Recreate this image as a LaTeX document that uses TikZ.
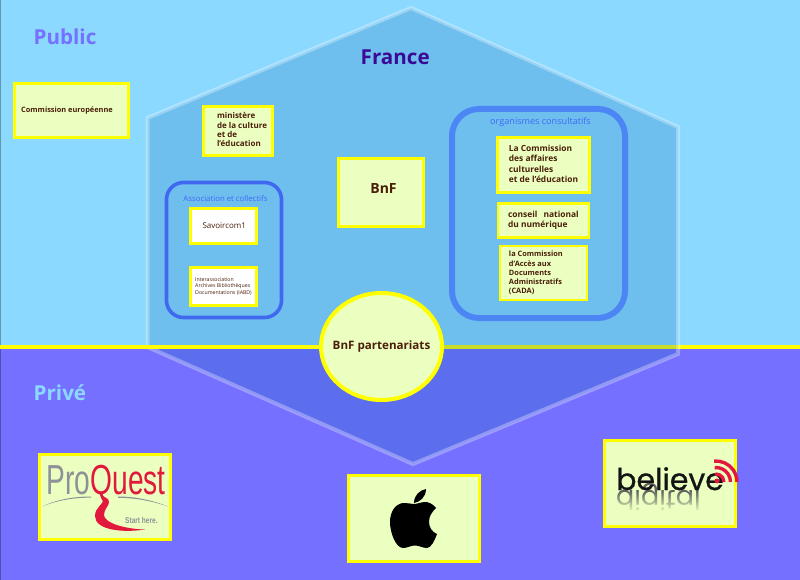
\documentclass[tikz,border=0pt]{standalone}
\usepackage{fontspec}
\setmainfont{Open Sans}
\newfontfamily\poppins[FakeBold=0.8]{Poppins}
\newfontfamily\poppinslight{Poppins}
\newfontfamily\libsans{Liberation Sans}
\usetikzlibrary{fadings,shapes.geometric}
\definecolor{skyc}{HTML}{8CD9FF}
\definecolor{violetc}{HTML}{7570FF}
\definecolor{hexc}{RGB}{4,103,175}
\definecolor{boxc}{HTML}{EBFFC0}
\definecolor{yel}{HTML}{FFFF00}
\definecolor{brownc}{HTML}{4A1E0A}
\definecolor{assocc}{HTML}{4169F0}
\definecolor{orgc}{HTML}{4C86F5}
\definecolor{titlec}{HTML}{3F68FA}
\definecolor{francec}{HTML}{3A0A96}
\definecolor{pqred}{HTML}{E2183C}
\definecolor{pqgrey}{HTML}{8E9298}
\tikzset{
  panel/.style={draw=yel,line width=3.4pt,fill=boxc,rectangle,inner sep=0pt,text=brownc,font=\bfseries},
  whitepanel/.style={panel,fill=white,font=\normalfont},
  heading/.style={font=\bfseries\fontsize{20.6}{24}\selectfont,inner sep=0pt},
  grouptitle/.style={text=titlec,inner sep=0pt},
  hexline/.style={draw=white,draw opacity=.3,line width=4pt,line join=miter},
  divider/.style={draw=yel,line width=4pt},
  arcline/.style={draw=pqred,line width=3.4pt},
}
\begin{document}
\begin{tikzpicture}[x=1pt,y=-1pt]
\useasboundingbox (0,0) rectangle (800,580);
\fill[skyc] (0,0) rectangle (800,346.5);
\fill[violetc] (0,346.5) rectangle (800,580);
\draw[black,opacity=.3,line width=1pt] (0,0) rectangle (800,580);
\draw[divider] (0,346.5) -- (800,346.5);
% hexagon
\fill[hexc,opacity=.22] (411,8) -- (678,127) -- (678,354) -- (413,464) -- (147.5,347) -- (147.5,118) -- cycle;
\draw[hexline] (411,8) -- (678,127) -- (678,354) -- (413,464) -- (147.5,347) -- (147.5,118) -- cycle;
% headings
\node[heading,text=violetc,anchor=west] (public) at (33.5,37) {Public};
\node[heading,text=francec,anchor=west] (france) at (360.5,57) {France};
\node[heading,text=skyc,anchor=west] (prive) at (33.5,393) {Privé};
% groups
\draw[assocc,line width=3.6pt,rounded corners=17pt] (166.5,182.5) rectangle (281.5,317.5);
\draw[orgc,line width=6pt,rounded corners=27pt] (452,109) rectangle (625,318);
\node[grouptitle,font=\fontsize{7.8}{10}\selectfont] (assoctitle) at (225.5,198.5) {Association et collectifs};
\node[grouptitle,font=\fontsize{9.1}{10}\selectfont] (orgtitle) at (540.5,122) {organismes consultatifs};
% panels
\node[panel,minimum width=114pt,minimum height=54pt,align=left,font=\bfseries\fontsize{7.4}{9}\selectfont] (ce) at (71.5,110.5) {Commission européenne\hspace{9pt}};
\node[panel,minimum width=69pt,minimum height=49pt,align=left,font=\bfseries\fontsize{8}{9}\selectfont] (min) at (238,131) {\hspace{8pt}\begin{tabular}{@{}l@{}}ministère\\[.2pt]de la culture\\[.2pt]et de\\[.2pt]l'éducation\end{tabular}};
\node[panel,minimum width=85pt,minimum height=68pt,font=\bfseries\fontsize{14}{16}\selectfont] (bnf) at (381,192.5) {\hspace{5pt}BnF\raisebox{0pt}[0pt][7pt]{}};
\node[whitepanel,minimum width=66pt,minimum height=35pt,font=\fontsize{8}{10}\selectfont] (sav) at (223.5,226) {\hspace{1.5pt}Savoircom1};
\node[whitepanel,minimum width=66pt,minimum height=38pt,align=left,font=\fontsize{5.2}{6.2}\selectfont] (iabd) at (223.5,286.5) {Interassociation\\Archives Bibliothèques\\ Documentations (IABD)};
\node[panel,minimum width=92pt,minimum height=55pt,align=left,font=\bfseries\fontsize{8.4}{10.2}\selectfont] (cac) at (543.5,165) {La Commission\\des affaires\\culturelles\\et de l'éducation\hspace{4pt}\\[-8pt]\mbox{}};
\node[panel,line width=2.6pt,minimum width=91pt,minimum height=34pt,align=left,font=\bfseries\fontsize{8.4}{10}\selectfont] (cnn) at (543.5,220.5) {conseil\hspace{4pt} national\\du numérique\hspace{8pt}};
\node[panel,line width=2.6pt,minimum width=87pt,minimum height=54pt,align=left,font=\bfseries\fontsize{7.4}{9.2}\selectfont] (cada) at (543.5,273) {la Commission\\d'Accès aux\\Documents\\Administratifs\hspace{16pt}\mbox{}\\(CADA)};
% divider left part, over the hexagon
\draw[divider] (0,346.5) -- (320,346.5);
% ellipse
\node[ellipse,draw=yel,line width=4pt,fill=boxc,minimum width=121pt,minimum height=107pt,inner sep=0pt,text=brownc,font=\bfseries\fontsize{11.6}{13}\selectfont] (part) at (381.5,346.5) {\makebox[0pt]{BnF partenariats}};
% logo panels
\node[panel,minimum width=131pt,minimum height=85pt] (pq) at (105,497) {};
\node[panel,minimum width=131pt,minimum height=86pt] (apple) at (414,518.5) {};
\node[panel,minimum width=131pt,minimum height=86pt] (bel) at (670,483.5) {};
% ProQuest logo
\fill[pqgrey] (42,506.5) .. controls (58,499) and (75,496.5) .. (91,496.5) -- (91,497.6) .. controls (75,497.6) and (58,500) .. (42,506.5) -- cycle;
\fill[pqgrey] (118,496.5) .. controls (135,496.5) and (152,500) .. (168,506.5) .. controls (152,501) and (135,497.8) .. (118,497.8) -- cycle;
\node[inner sep=0pt,anchor=base west,font=\libsans\fontsize{42}{42}\selectfont] (pqtext) at (46.5,494.5) {\scalebox{.67}[1]{\color{pqgrey}Pro\color{pqred}Quest}};
\fill[pqred] (99,493) .. controls (103,497) and (109,498) .. (109,502) .. controls (109,506) and (104,509) .. (104,515) .. controls (104,523) and (125,529) .. (145,529.5) .. controls (122,533) and (95,530) .. (95,516) .. controls (95,507) and (104,504) .. (103,500) .. controls (102,497) and (99,495) .. (99,493) -- cycle;
\node[inner sep=0pt,anchor=west,text=pqgrey,font=\libsans\bfseries\fontsize{8.4}{9}\selectfont] (pqstart) at (125,520) {\scalebox{.78}[1]{Start here.}};
% Apple logo
\fill[black] (415,504) .. controls (410,504) and (407,502.5) .. (403,503) .. controls (395,504) and (390,512) .. (390,522) .. controls (390,533) and (396,548) .. (403,548) .. controls (408,548) and (410,545.5) .. (415,545.5) .. controls (420,545.5) and (422,548) .. (427,548) .. controls (431,548) and (435,540) .. (437,534) .. controls (432,532) and (429,527) .. (429,522) .. controls (429,516) and (432,512) .. (436,508) .. controls (432,503) and (428,502) .. (425,502) .. controls (421,502) and (418,504) .. (415,504) -- cycle;
\fill[black] (414,503) .. controls (414,495) and (420,490) .. (426,489) .. controls (426,497) and (420,502) .. (414,503) -- cycle;
% believe logo
\node[inner sep=0pt,anchor=base west,yscale=-1,transform shape,text=black!62,font=\poppinslight\fontsize{27}{27}\selectfont] (digital) at (616,490.5) {digital};
\fill[boxc,path fading=north] (612,491) rectangle (712,512);
\node[inner sep=0pt,anchor=base west,text=black!92,font=\poppins\fontsize{30}{30}\selectfont] (believe) at (616,490) {believe};
\draw[arcline] ([shift={(716,482)}]-95:8) arc[start angle=-95,end angle=0,radius=8];
\draw[arcline] ([shift={(716,482)}]-95:14.5) arc[start angle=-95,end angle=0,radius=14.5];
\draw[arcline] ([shift={(716,482)}]-95:21) arc[start angle=-95,end angle=0,radius=21];
\fill[pqred] (717,481) circle (2.5);
\end{tikzpicture}
\end{document}
